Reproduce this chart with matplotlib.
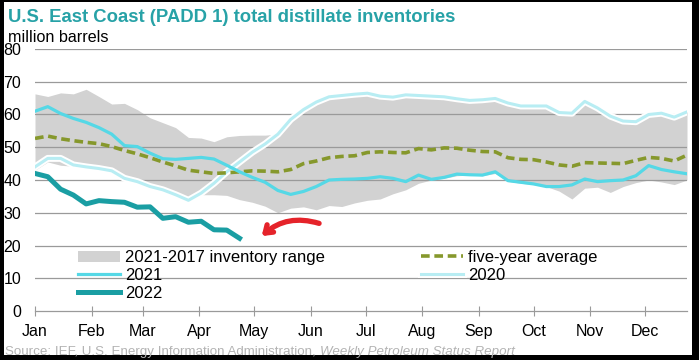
import numpy as np
import matplotlib
matplotlib.use('Agg')
import matplotlib.pyplot as plt
import matplotlib.patheffects as pe
from matplotlib.patches import Rectangle, FancyArrowPatch

plt.rcParams['font.family'] = ['Liberation Sans', 'DejaVu Sans']

# month labels and first day of each month
months = ['Jan', 'Feb', 'Mar', 'Apr', 'May', 'Jun',
          'Jul', 'Aug', 'Sep', 'Oct', 'Nov', 'Dec']
month_start = [0, 31, 59, 90, 120, 151, 181, 212, 243, 273, 304, 334]

# weekly values, million barrels
range_hi = [66.3, 65.5, 66.6, 66.3, 67.7, 65.5, 63.2, 63.4, 61.5, 59.0,
            57.5, 56.0, 53.0, 52.8, 51.7, 53.2, 53.6, 53.7, 53.7, 54.0,
            58.5, 61.5, 63.8, 65.4, 65.8, 66.2, 66.5, 65.6, 65.3, 66.0,
            65.8, 65.6, 65.4, 64.8, 64.3, 64.5, 64.9, 63.5, 62.6, 62.6,
            62.6, 60.6, 60.4, 64.0, 62.0, 59.5, 58.0, 57.8, 60.0, 60.4,
            59.2, 60.8]
range_lo = [43.0, 45.5, 44.5, 44.2, 43.5, 43.0, 42.5, 40.0, 39.0, 37.5,
            36.5, 35.0, 33.4, 35.5, 35.5, 35.3, 34.0, 33.2, 32.0, 30.0,
            31.4, 31.8, 30.9, 32.2, 31.9, 33.0, 33.8, 34.2, 35.8, 37.0,
            39.0, 40.0, 40.5, 41.3, 41.5, 41.3, 42.0, 39.6, 39.0, 38.6,
            38.0, 36.6, 34.2, 37.5, 37.8, 36.2, 38.0, 39.2, 40.0, 39.4,
            38.6, 40.0]
avg_5yr = [52.7, 53.4, 52.6, 52.0, 51.5, 51.1, 50.2, 49.0, 48.0, 46.8,
           45.5, 44.3, 43.0, 42.5, 42.0, 42.2, 42.5, 42.8, 42.7, 42.5,
           43.2, 45.0, 45.8, 46.8, 47.2, 47.4, 48.4, 48.6, 48.4, 48.3,
           49.6, 49.2, 49.8, 49.7, 49.1, 48.7, 48.6, 46.8, 46.3, 46.2,
           45.5, 44.6, 44.2, 45.3, 45.2, 45.1, 45.0, 46.0, 46.9, 46.6,
           45.8, 47.6]
inv_2021 = [61.0, 62.4, 60.3, 58.8, 57.6, 56.0, 54.0, 50.5, 50.2, 48.2,
            46.5, 46.3, 46.6, 46.9, 46.4, 44.5, 42.5, 40.8, 39.3, 36.8,
            35.6, 36.5, 38.0, 40.0, 40.2, 40.3, 40.5, 41.0, 40.5, 39.5,
            41.5, 40.2, 40.8, 41.8, 41.6, 41.5, 42.5, 39.8, 39.3, 38.8,
            38.0, 38.0, 38.5, 40.3, 39.5, 39.8, 40.0, 41.3, 44.4, 43.2,
            42.5, 41.9]
inv_2020 = [44.0, 46.6, 46.6, 44.6, 44.0, 43.5, 42.8, 40.5, 39.5, 38.0,
            37.0, 35.5, 33.8, 36.0, 39.0, 42.5, 45.5, 48.5, 51.0, 54.0,
            58.5, 61.5, 63.8, 65.4, 65.8, 66.2, 66.5, 65.6, 65.3, 66.0,
            65.8, 65.6, 65.4, 64.8, 64.3, 64.5, 64.9, 63.5, 62.6, 62.6,
            62.6, 60.6, 60.4, 64.0, 62.0, 59.5, 58.0, 57.8, 60.0, 60.4,
            59.2, 60.8]
inv_2022 = [42.0, 41.0, 37.2, 35.4, 32.7, 33.7, 33.4, 33.2, 31.7, 31.8,
            28.3, 28.8, 27.1, 27.4, 24.8, 24.7, 22.2]

days = np.arange(len(range_hi)) * 7
days_2022 = np.arange(len(inv_2022)) * 7

# hand drawn arrow (tail -> tip), in data units
arrow_tail = (157, 26.5)
arrow_tip = (123, 22.3)

fig = plt.figure(figsize=(6.99, 3.6), dpi=100)
fig.patch.set_facecolor('black')
fig.add_artist(Rectangle((4 / 699, 5 / 360), 688 / 699, 353 / 360,
                         transform=fig.transFigure, facecolor='white',
                         edgecolor='none', zorder=-5))

ax = fig.add_axes([35 / 699, 49 / 360, 652 / 699, 262 / 360])
ax.set_facecolor('white')

ax.fill_between(days, range_lo, range_hi, color='#d2d2d2', lw=0,
                zorder=1, label='2021-2017 inventory range')
for v in range(10, 90, 10):
    ax.axhline(v, color='#9a9a9a', lw=0.9, zorder=1.5)

ax.plot(days, inv_2020, color='#b8edf3', lw=2.2, zorder=3, label='2020',
        path_effects=[pe.Stroke(linewidth=5, foreground='white'), pe.Normal()])
ax.plot(days, avg_5yr, color='#86982c', lw=2.6, ls=(0, (2.4, 1.3)), zorder=4,
        label='five-year average')
ax.plot(days, inv_2021, color='#55d8e6', lw=2.3, zorder=5, label='2021')
ax.plot(days_2022, inv_2022, color='#1a9ea3', lw=3.6, zorder=6, label='2022')

arrow = FancyArrowPatch(arrow_tail, arrow_tip, connectionstyle='arc3,rad=0.3',
                        arrowstyle='->,head_length=5,head_width=3.5',
                        color='#e5232a', lw=3.8, zorder=7)
ax.add_patch(arrow)

ax.set_xlim(0, 357)
ax.set_ylim(0, 80)
ax.set_xticks(month_start)
ax.set_xticklabels(months)
ax.set_yticks(range(0, 90, 10))
for s in ['top', 'right', 'left']:
    ax.spines[s].set_visible(False)
ax.spines['bottom'].set_color('#9a9a9a')
ax.spines['bottom'].set_linewidth(0.9)
ax.tick_params(axis='x', direction='inout', length=7, color='#9a9a9a',
               labelsize=11.5, pad=6)
ax.tick_params(axis='y', length=0, labelsize=11.5, pad=10)

h, l = ax.get_legend_handles_labels()
order = ['2021-2017 inventory range', '2021', '2022', 'five-year average', '2020']
hd = dict(zip(l, h))
ax.legend([hd[k] for k in order], order, loc='upper left',
          bbox_to_anchor=(0.066, 0.232), ncol=2, frameon=False,
          fontsize=12, handlelength=2.5, handletextpad=0.3,
          columnspacing=5.8, labelspacing=0.16, borderpad=0, borderaxespad=0)

fig.text(8 / 699, 1 - 17 / 360, 'U.S. East Coast (PADD 1) total distillate inventories',
         color='#27a2a7', fontsize=13.3, fontweight='bold', va='center')
fig.text(8 / 699, 1 - 37 / 360, 'million barrels', fontsize=11.6, va='center')

src = fig.text(5 / 699, 1 - 352 / 360,
               'Source: IEF, U.S. Energy Information Administration, ',
               color='#b3b3b3', fontsize=9.6, va='center')
r = fig.canvas.get_renderer()
bb = src.get_window_extent(r)
fig.text(bb.x1 / fig.bbox.width, 1 - 352 / 360, 'Weekly Petroleum Status Report',
         color='#b3b3b3', fontsize=9.6, va='center', style='italic')

fig.savefig('out.png', dpi=100, facecolor=fig.get_facecolor())
